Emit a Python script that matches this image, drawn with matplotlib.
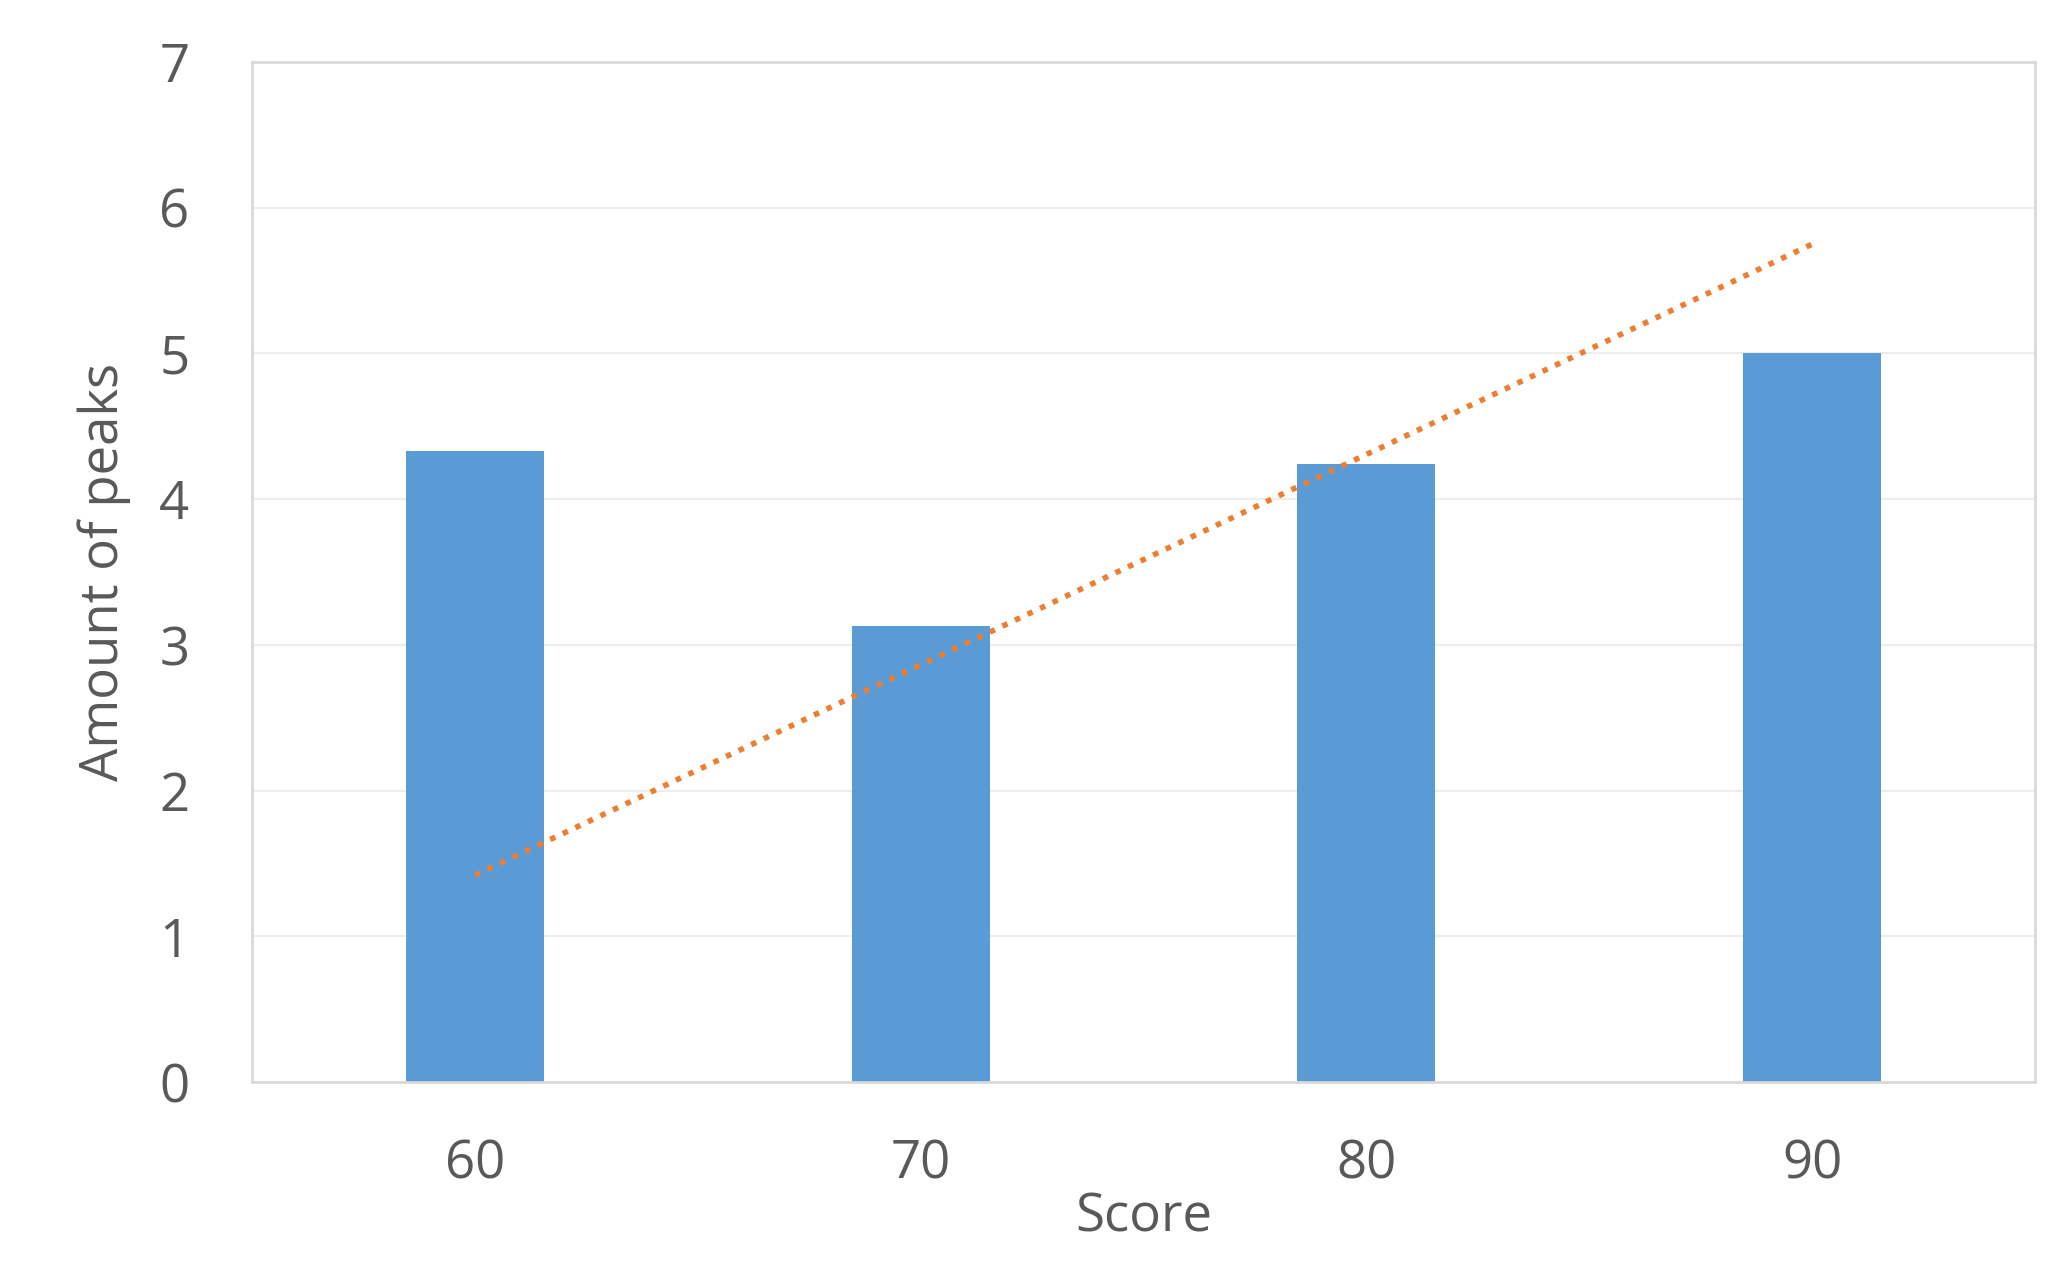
import matplotlib.pyplot as plt

# values
scores = ['60', '70', '80', '90']
peaks = [4.33, 3.13, 4.24, 5.0]
trend_x = [0, 3]
trend_y = [1.42, 5.75]

plt.rcParams['font.family'] = ['Open Sans', 'DejaVu Sans']
text_color = '#595959'

fig = plt.figure(figsize=(20.66, 12.8), dpi=100)
ax = fig.add_axes([252 / 2066, 1 - 1082 / 1280, (2035 - 252) / 2066, (1082 - 62) / 1280])

pos = range(len(scores))
ax.bar(pos, peaks, width=0.31, color='#5B9BD5', zorder=2)
ax.plot(trend_x, trend_y, linestyle=(0, (1, 1.5)), color='#ED7D31', linewidth=4, zorder=3)

ax.set_xlim(-0.5, 3.5)
ax.set_ylim(0, 7)
ax.set_xticks(list(pos))
ax.set_xticklabels(scores)
ax.set_yticks(range(8))
ax.tick_params(length=0, labelsize=38, colors=text_color)
ax.tick_params(axis='x', pad=40)
ax.tick_params(axis='y', pad=45)
ax.grid(axis='y', color='#EDEDED', linewidth=1.5, zorder=0)
for s in ax.spines.values():
    s.set_color('#D9D9D9')
    s.set_linewidth(2)

ax.set_xlabel('Score', fontsize=38, color=text_color, labelpad=0)
ax.set_ylabel('Amount of peaks', fontsize=38, color=text_color, labelpad=20)

fig.savefig('out.png', dpi=100)
